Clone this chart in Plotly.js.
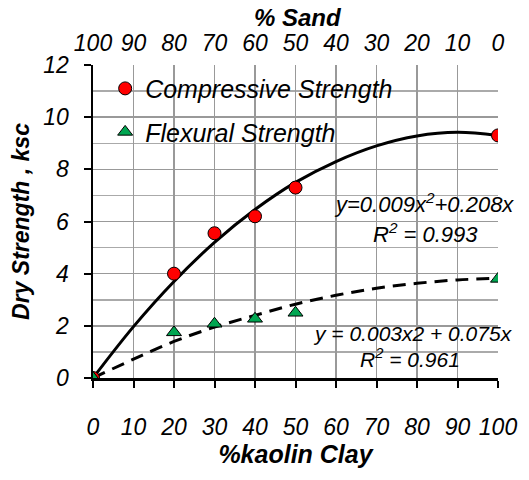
<!DOCTYPE html>
<html>
<head>
<meta charset="utf-8">
<script src="https://cdn.plot.ly/plotly-3.0.1.min.js"></script>
<style>html,body{margin:0;padding:0;background:#fff;}#chart{width:529px;height:480px;}</style>
</head>
<body>
<div id="chart"></div>
<script>
// Measured data
const clayPct = [0, 20, 30, 40, 50, 100];
const compressive = [0, 4.0, 5.55, 6.2, 7.3, 9.3];
const flexural = [0, 1.75, 2.08, 2.27, 2.5, 3.8];

// Trend lines
const trendX = [0, 10, 20, 30, 40, 50, 60, 70, 80, 90, 100];
const compTrend = [0, 1.97, 3.7, 5.2, 6.46, 7.5, 8.3, 8.9, 9.28, 9.42, 9.3];
const flexTrend = [0, 0.72, 1.4, 1.95, 2.4, 2.83, 3.17, 3.44, 3.63, 3.76, 3.82];

const xTicks = [0, 10, 20, 30, 40, 50, 60, 70, 80, 90, 100];
const sandTicks = [100, 90, 80, 70, 60, 50, 40, 30, 20, 10, 0];
const yTicks = [0, 2, 4, 6, 8, 10, 12];

const FONT = "Liberation Sans, Arial, sans-serif";
const itFont = (s) => ({family: FONT, size: s, color: '#000', style: 'italic'});
const bdFont = (s) => ({family: FONT, size: s, color: '#000', style: 'italic', weight: 'bold'});

const traces = [
  {x: trendX, y: compTrend, type: 'scatter', mode: 'lines', line: {color: '#000', width: 3, shape: 'spline'}, showlegend: false, hoverinfo: 'skip'},
  {x: trendX, y: flexTrend, type: 'scatter', mode: 'lines', line: {color: '#000', width: 3, dash: '13px,8px', shape: 'spline'}, showlegend: false, hoverinfo: 'skip'},
  {x: clayPct, y: compressive, type: 'scatter', mode: 'markers', name: 'Compressive Strength', legendgroup: 'a',
   marker: {symbol: 'circle', size: 13, color: '#ff0000', line: {color: '#000', width: 1}}},
  {x: clayPct, y: flexural, type: 'scatter', mode: 'markers', name: 'Flexural Strength', legendgroup: 'b',
   marker: {symbol: 'triangle-up', size: 13, color: '#00a651', line: {color: '#000', width: 1}}},
  {x: sandTicks, y: sandTicks.map(() => 0), xaxis: 'x2', type: 'scatter', mode: 'markers', marker: {opacity: 0}, showlegend: false, hoverinfo: 'skip'}
];

const layout = {
  width: 529, height: 480,
  margin: {l: 93, r: 31, t: 65, b: 102},
  paper_bgcolor: '#fff', plot_bgcolor: '#fff',
  showlegend: true,
  legend: {x: 0.03, y: 0.998, xanchor: 'left', yanchor: 'top', bgcolor: 'rgba(0,0,0,0)', font: itFont(25), tracegroupgap: 8, itemwidth: 30},
  xaxis: {
    range: [0, 100], tickvals: xTicks, ticktext: xTicks.map(String),
    showgrid: true, gridcolor: '#999', gridwidth: 1.5,
    showline: true, linecolor: '#000', linewidth: 2.5,
    ticks: 'outside', ticklen: 7, tickwidth: 2, tickcolor: '#000',
    ticklabelstandoff: 20, tickfont: itFont(23),
    zeroline: false,
    title: {text: '%kaolin Clay', font: bdFont(25), standoff: 5}
  },
  xaxis2: {
    overlaying: 'x', side: 'top', range: [100, 0], tickvals: sandTicks, ticktext: sandTicks.map(String),
    showgrid: false, showline: false, ticks: '', tickfont: itFont(23), zeroline: false, ticklabelstandoff: 8
  },
  yaxis: {
    range: [0, 12], tickvals: yTicks, ticktext: yTicks.map(String),
    showgrid: true, gridcolor: '#999', gridwidth: 1.5,
    minor: {dtick: 1, showgrid: true, gridcolor: '#aaa', gridwidth: 1.5, ticks: ''},
    showline: true, linecolor: '#000', linewidth: 2.5,
    ticks: 'outside', ticklen: 7, tickwidth: 2, tickcolor: '#000',
    ticklabelstandoff: 10, tickfont: itFont(23), zeroline: false,
    title: {text: 'Dry Strength , ksc', font: bdFont(23), standoff: 8}
  },
  annotations: [
    {px: 298, py: 17, anchor: 'center', text: '% Sand', font: bdFont(24)},
    {px: 516, py: 203, anchor: 'right', text: 'y=0.009x<sup>2</sup>+0.208x', font: itFont(22)},
    {px: 425, py: 233, anchor: 'center', text: 'R<sup>2</sup> = 0.993', font: itFont(22)},
    {px: 413, py: 333, anchor: 'center', text: 'y = 0.003x2 + 0.075x', font: itFont(21)},
    {px: 410, py: 358, anchor: 'center', text: 'R<sup>2</sup> = 0.961', font: itFont(21)}
  ]
};

// position annotations from pixel positions into paper coordinates
const plotW = 529 - 93 - 31, plotH = 480 - 65 - 102;
layout.annotations = layout.annotations.map(a => ({
  xref: 'paper', yref: 'paper',
  x: (a.px - 93) / plotW, y: (480 - 102 - a.py) / plotH,
  xanchor: a.anchor, yanchor: 'middle', showarrow: false,
  text: a.text, font: a.font
}));

Plotly.newPlot('chart', traces, layout, {displayModeBar: false, staticPlot: true});
</script>
</body>
</html>
